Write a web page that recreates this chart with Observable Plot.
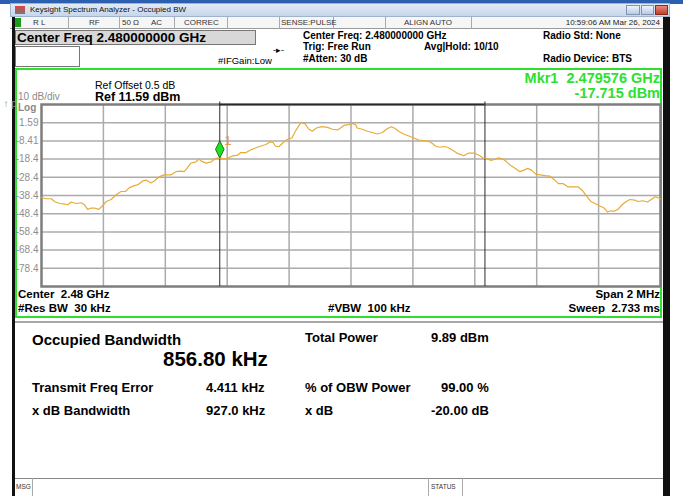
<!DOCTYPE html>
<html><head><meta charset="utf-8">
<script src="https://cdn.jsdelivr.net/npm/d3@7"></script>
<script src="https://cdn.jsdelivr.net/npm/@observablehq/plot@0.6"></script>
<style>
html,body{margin:0;padding:0;background:#fff;}
#page{position:relative;width:683px;height:496px;overflow:hidden;font-family:"Liberation Sans",Arial,sans-serif;color:#000;}
.a{position:absolute;white-space:nowrap;line-height:1;transform:translateY(-50%);}
.b{font-weight:bold;}
.box{position:absolute;box-sizing:border-box;}
#chart{position:absolute;left:0;top:96px;}
</style></head><body><div id="page">
<div class="box" style="left:0;top:0;width:683px;height:4px;background:#2c5fae"></div>
<div class="box" style="left:10px;top:3px;width:660px;height:14px;background:linear-gradient(#e2ebf6,#c6d6eb);border:1px solid #9fb3cc"></div>
<div class="box" style="left:15px;top:6px;width:10px;height:8px;background:linear-gradient(#d44,#777)"></div>
<div class="a" style="left:30px;top:10px;font-size:8px;color:#111">Keysight Spectrum Analyzer - Occupied BW</div>
<div class="box" style="left:626px;top:5px;width:14px;height:10px;background:linear-gradient(#eef3fa,#b9cbe3);border:1px solid #7f95b3"></div>
<div class="box" style="left:641px;top:5px;width:13px;height:10px;background:linear-gradient(#eef3fa,#b9cbe3);border:1px solid #7f95b3"></div>
<div class="box" style="left:655px;top:5px;width:13px;height:10px;background:linear-gradient(#e98a7a,#c0402c);border:1px solid #8a2a1c"></div>
<div class="box" style="left:10px;top:17px;width:660px;height:12px;background:#f6f6f6;border-bottom:1px solid #9a9a9a"></div>
<div class="box" style="left:13px;top:18px;width:8px;height:9px;background:#1d9b1d"></div>
<div class="box" style="left:68px;top:17px;width:1px;height:12px;background:#aaa"></div>
<div class="box" style="left:119px;top:17px;width:1px;height:12px;background:#aaa"></div>
<div class="box" style="left:174px;top:17px;width:1px;height:12px;background:#aaa"></div>
<div class="box" style="left:227px;top:17px;width:1px;height:12px;background:#aaa"></div>
<div class="box" style="left:279px;top:17px;width:1px;height:12px;background:#aaa"></div>
<div class="box" style="left:333px;top:17px;width:1px;height:12px;background:#aaa"></div>
<div class="box" style="left:385px;top:17px;width:1px;height:12px;background:#aaa"></div>
<div class="box" style="left:471px;top:17px;width:1px;height:12px;background:#aaa"></div>
<div class="a" style="left:33px;top:23px;font-size:8px;color:#333">R L</div>
<div class="a" style="left:89px;top:23px;font-size:8px;color:#333">RF</div>
<div class="a" style="left:122px;top:23px;font-size:8px;color:#333">50 Ω</div>
<div class="a" style="left:151px;top:23px;font-size:8px;color:#333">AC</div>
<div class="a" style="left:184px;top:23px;font-size:8px;color:#333">CORREC</div>
<div class="a" style="left:281px;top:23px;font-size:8px;color:#333">SENSE:PULSE</div>
<div class="a" style="left:404px;top:23px;font-size:8px;color:#333">ALIGN AUTO</div>
<div class="a" style="right:23px;top:23px;font-size:8px;color:#222">10:59:06 AM Mar 26, 2024</div>
<div class="box" style="left:12px;top:17px;width:3px;height:479px;background:#111"></div>
<div class="box" style="left:663px;top:17px;width:7px;height:479px;background:#111"></div>
<div class="box" style="left:15px;top:30px;width:241px;height:15px;background:#d8d8d8;border:1px solid #777"></div>
<div class="a b" style="left:17px;top:38px;font-size:13.5px">Center Freq 2.480000000 GHz</div>
<div class="box" style="left:15px;top:46px;width:65px;height:21px;background:#fff;border:1px solid #777"></div>
<div class="a" style="left:218px;top:61px;font-size:9.5px">#IFGain:Low</div>
<div class="a" style="left:273px;top:50px;font-size:9px">-▸-</div>
<div class="a b" style="left:303px;top:36px;font-size:10px">Center Freq: 2.480000000 GHz</div>
<div class="a b" style="left:303px;top:47px;font-size:10px">Trig: Free Run</div>
<div class="a b" style="left:424px;top:47px;font-size:10px">Avg|Hold: 10/10</div>
<div class="a b" style="left:303px;top:59px;font-size:10px">#Atten: 30 dB</div>
<div class="a b" style="left:543px;top:36px;font-size:10px">Radio Std: None</div>
<div class="a b" style="left:543px;top:59px;font-size:10px">Radio Device: BTS</div>
<div class="box" style="left:15px;top:68px;width:647px;height:250px;border:2px solid #2fe02f"></div>
<div class="a" style="left:95px;top:85px;font-size:10.5px">Ref Offset 0.5 dB</div>
<div class="a b" style="left:95px;top:97px;font-size:12.5px">Ref 11.59 dBm</div>
<div class="a" style="left:18px;top:96.5px;font-size:10px;color:#8a8a8a">10 dB/div</div>
<div class="a b" style="left:18px;top:107.5px;font-size:10px;color:#8a8a8a">Log</div>
<div class="a b" style="right:23px;top:77.5px;font-size:14.5px;color:#2fe02f">Mkr1&nbsp;&nbsp;2.479576 GHz</div>
<div class="a b" style="right:23px;top:92.5px;font-size:14.5px;color:#2fe02f">-17.715 dBm</div>
<div class="a b" style="left:18px;top:295px;font-size:11.5px">Center&nbsp;&nbsp;2.48 GHz</div>
<div class="a b" style="left:18px;top:309px;font-size:11.5px">#Res BW&nbsp;&nbsp;30 kHz</div>
<div class="a b" style="left:328px;top:309px;font-size:11.5px">#VBW&nbsp;&nbsp;100 kHz</div>
<div class="a b" style="right:23px;top:295px;font-size:11.5px">Span 2 MHz</div>
<div class="a b" style="right:23px;top:309px;font-size:11.5px">Sweep&nbsp;&nbsp;2.733 ms</div>
<div class="box" style="left:15px;top:321px;width:648px;height:2px;background:#a8a8a8"></div>
<div class="a b" style="left:32px;top:339px;font-size:15px">Occupied Bandwidth</div>
<div class="a b" style="left:163px;top:359px;font-size:20.5px">856.80 kHz</div>
<div class="a b" style="left:305px;top:337px;font-size:13px">Total Power</div>
<div class="a b" style="left:431px;top:337px;font-size:13px">9.89 dBm</div>
<div class="a b" style="left:32px;top:387px;font-size:13px">Transmit Freq Error</div>
<div class="a b" style="left:206px;top:387px;font-size:13px">4.411 kHz</div>
<div class="a b" style="left:305px;top:387px;font-size:13px">% of OBW Power</div>
<div class="a b" style="left:441px;top:387px;font-size:13px">99.00 %</div>
<div class="a b" style="left:32px;top:410px;font-size:13px">x dB Bandwidth</div>
<div class="a b" style="left:206px;top:410px;font-size:13px">927.0 kHz</div>
<div class="a b" style="left:305px;top:410px;font-size:13px">x dB</div>
<div class="a b" style="left:431px;top:410px;font-size:13px">-20.00 dB</div>
<div class="box" style="left:15px;top:478px;width:648px;height:18px;border-top:1px solid #888;background:#fff"></div>
<div class="box" style="left:32px;top:478px;width:1px;height:18px;background:#aaa"></div>
<div class="box" style="left:428px;top:478px;width:1px;height:18px;background:#aaa"></div>
<div class="box" style="left:462px;top:478px;width:1px;height:18px;background:#aaa"></div>
<div class="a" style="left:16px;top:487px;font-size:6.5px;color:#333">MSG</div>
<div class="a" style="left:431px;top:487px;font-size:6.5px;color:#333">STATUS</div>
<div id="chart"></div>
</div>
<script>
const freqOffsetKHz = [
 -1000,-985,-968,-958,-942,-926,-915,-904,-888,-872,
 -861,-851,-840,-829,-815,-802,-791,-775,-759,-743,
 -729,-716,-700,-690,-673,-661,-646,-636,-620,-604,
 -582,-566,-550,-539,-529,-518,-501,-491,-484,-468,
 -452,-436,-424,-409,-398,-382,-366,-356,-339,-323,
 -307,-291,-275,-262,-252,-243,-232,-219,-205,-191,
 -178,-162,-149,-136,-125,-112,-95,-76,-60,-44,
 -34,-23,-7,4,15,20,36,53,69,85,
 101,117,130,140,154,170,187,203,219,235,
 251,262,273,286,299,312,326,342,364,380,
 398,412,426,439,452,466,476,491,503,514,
 530,546,557,571,584,597,611,627,643,659,
 670,686,702,718,734,747,761,775,788,804,
 818,829,839,850,863,876,887,901,917,927,
 943,958,970,983,1000];
const traceDBm = [
 -39.5,-40.2,-40.2,-41.7,-42.8,-43.1,-43.5,-42.0,-42.8,-42.4,
 -43.5,-46.0,-45.3,-45.3,-46.0,-43.9,-41.7,-40.6,-38.0,-36.2,
 -36.2,-34.1,-33.0,-32.6,-30.4,-30.0,-31.5,-30.4,-28.2,-27.1,
 -27.1,-25.3,-25.0,-25.3,-23.2,-20.7,-19.9,-18.4,-19.5,-20.6,
 -19.9,-18.0,-17.7,-18.4,-18.0,-16.6,-16.2,-14.8,-14.8,-13.3,
 -12.2,-11.2,-10.4,-9.0,-9.3,-11.5,-11.5,-9.3,-7.5,-6.8,
 -2.6,1.6,1.1,-2.0,-3.1,-1.3,-0.6,-1.0,-2.0,-2.4,
 -1.3,0.1,0.5,1.2,0.5,-1.3,-2.0,-3.1,-3.8,-4.6,
 -3.8,-1.7,-0.6,-1.3,-3.1,-4.6,-5.7,-6.8,-7.9,-8.2,
 -8.6,-9.7,-11.2,-11.9,-11.5,-11.9,-13.3,-15.1,-16.6,-15.1,
 -15.1,-16.2,-17.7,-18.0,-19.1,-18.4,-17.7,-18.4,-19.9,-21.7,
 -23.5,-25.3,-24.6,-23.5,-24.6,-26.7,-27.1,-27.5,-27.8,-30.0,
 -31.9,-31.9,-33.7,-33.7,-33.7,-35.5,-38.7,-41.7,-42.8,-44.2,
 -45.3,-47.5,-46.8,-47.1,-46.0,-43.5,-42.0,-40.6,-40.9,-41.7,
 -41.3,-42.0,-40.6,-39.1,-40.2];
const yTickValues = [1.59, -8.41, -18.41, -28.41, -38.41, -48.41, -58.41, -68.41, -78.41];
const yTickLabels = ["1.59", "-8.41", "-18.4", "-28.4", "-38.4", "-48.4", "-58.4", "-68.4", "-78.4"];
const yDomain = [-88.41, 11.59];
const xDomainKHz = [-1000, 1000];
const xGridKHz = [-800, -600, -400, -200, 0, 200, 400, 600, 800];
const obwEdgesKHz = [-424.0, 432.8];
const markerFreqKHz = [-424];
const markerDBm = [-17.715];
const markerLabel = ["1"];

const trace = freqOffsetKHz.map((f, i) => ({f, p: traceDBm[i]}));
const labelOf = new Map(yTickValues.map((v, i) => [v, yTickLabels[i]]));
const markers = markerFreqKHz.map((f, i) => ({f, p: markerDBm[i], t: markerLabel[i]}));
const tallDiamond = {draw(ctx) { ctx.moveTo(0, -8.5); ctx.lineTo(4.3, 0); ctx.lineTo(0, 8.5); ctx.lineTo(-4.3, 0); ctx.closePath(); }};

const chart = Plot.plot({
  width: 683, height: 196,
  marginLeft: 41, marginRight: 23, marginTop: 8, marginBottom: 6,
  style: {background: "transparent", fontFamily: "Liberation Sans, Arial, sans-serif", fontSize: "10px", overflow: "visible"},
  x: {domain: xDomainKHz, axis: null},
  y: {domain: yDomain},
  marks: [
    Plot.ruleY(yTickValues, {stroke: "#ababab", strokeWidth: 1.5}),
    Plot.ruleX(xGridKHz, {stroke: "#ababab", strokeWidth: 1.5}),
    Plot.frame({stroke: "#7d7d7d", strokeWidth: 2.5}),
    Plot.axisY({ticks: yTickValues, tickSize: 0, tickPadding: 3, tickFormat: d => labelOf.get(d), color: "#8e8e8e", fontSize: 10}),
    Plot.ruleX(obwEdgesKHz, {y1: yDomain[0], y2: yDomain[1] + 1.4, stroke: "#2a2a2a", strokeWidth: 1}),
    Plot.ruleY([yDomain[1]], {x1: obwEdgesKHz[0], x2: obwEdgesKHz[1], stroke: "#2a2a2a", strokeWidth: 1.5}),
    Plot.line(trace, {x: "f", y: "p", stroke: "#E8AB38", strokeWidth: 1.2}),
    Plot.dot(markers, {x: "f", y: "p", symbol: tallDiamond, fill: "#22e022", stroke: "#127a12", strokeWidth: 1, dy: -8.5}),
    Plot.text(markers, {x: "f", y: "p", text: "t", dx: 8, dy: -17, fill: "#E8A030", fontSize: 13})
  ]
});
document.getElementById("chart").appendChild(chart);
</script>
</body></html>
